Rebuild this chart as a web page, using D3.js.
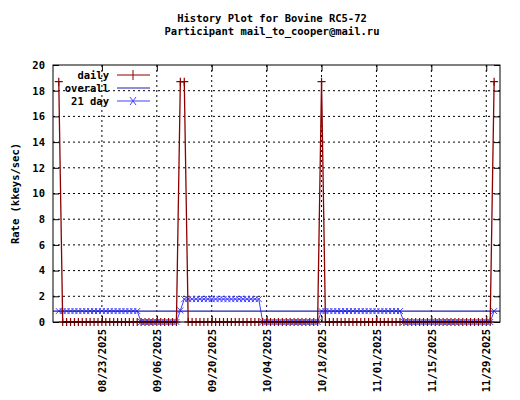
<!DOCTYPE html>
<html><head><meta charset="utf-8">
<script src="https://cdn.jsdelivr.net/npm/d3@7"></script>
<style>body{margin:0;background:#fff}text{font-family:"DejaVu Sans Mono",monospace;font-weight:bold;font-size:10.5px}</style>
</head><body><svg id="c" width="520" height="400"></svg>
<script>
const titleLines = ["History Plot for Bovine RC5-72", "Participant mail_to_cooper@mail.ru"];
const startDay = "2025-08-12", endDay = "2025-12-01";
const spikeDays = ["2025-08-12", "2025-09-12", "2025-09-13", "2025-10-18", "2025-12-01"];
const spikeValue = 18.7;
const overallValue = 0.85;
// 21-day average read as runs: [from, to, value]
const avgRuns = [
  ["2025-08-12", "2025-09-01", 0.85],
  ["2025-09-02", "2025-09-11", 0.0],
  ["2025-09-12", "2025-09-12", 0.9],
  ["2025-09-13", "2025-10-02", 1.78],
  ["2025-10-03", "2025-10-17", 0.0],
  ["2025-10-18", "2025-11-07", 0.85],
  ["2025-11-08", "2025-11-30", 0.0],
  ["2025-12-01", "2025-12-01", 0.85]
];
const xTickDates = ["2025-08-23","2025-09-06","2025-09-20","2025-10-04","2025-10-18","2025-11-01","2025-11-15","2025-11-29"];
const yTicks = [0,2,4,6,8,10,12,14,16,18,20];
const legendLabels = ["daily", "overall", "21 day"];

const P = d => d3.timeParse("%Y-%m-%d")(d);
const days = d3.timeDay.range(P(startDay), d3.timeDay.offset(P(endDay), 1));
const spikeSet = new Set(spikeDays);
const fmt = d3.timeFormat("%Y-%m-%d");
const daily = days.map(d => ({d, v: spikeSet.has(fmt(d)) ? spikeValue : 0}));
const avg = days.map(d => { const k = fmt(d); const r = avgRuns.find(r => k >= r[0] && k <= r[1]); return {d, v: r ? r[2] : 0}; });

const svg = d3.select("#c");
const L = 53, R = 500, T = 65, B = 322;
const x = d3.scaleTime().domain([new Date(2025,7,10,12,45), new Date(2025,11,2,12)]).range([L, R]);
const y = d3.scaleLinear().domain([0, 20]).range([B, T]);

svg.selectAll(".t").data(titleLines).join("text").attr("x", 272).attr("y", (d,i)=>22+i*13)
  .attr("text-anchor","middle").text(d=>d);

const g = svg.append("g");
yTicks.forEach(t => { if (t>0 && t<20) g.append("line").attr("x1",L).attr("x2",R).attr("y1",y(t)).attr("y2",y(t)).attr("stroke","#000").attr("stroke-dasharray","2,3"); });
xTickDates.forEach(t => g.append("line").attr("x1",x(P(t))).attr("x2",x(P(t))).attr("y1",T).attr("y2",B).attr("stroke","#000").attr("stroke-dasharray","2,3"));

const ya = svg.append("g").attr("transform",`translate(${L},0)`).call(d3.axisLeft(y).tickValues(yTicks).tickSize(-6).tickPadding(8));
const yb = svg.append("g").attr("transform",`translate(${R},0)`).call(d3.axisRight(y).tickValues(yTicks).tickSize(-6).tickFormat(""));
const xa = svg.append("g").attr("transform",`translate(0,${B})`).call(d3.axisBottom(x).tickValues(xTickDates.map(P)).tickSize(-6).tickFormat(d3.timeFormat("%m/%d/%Y")));
const xt = svg.append("g").attr("transform",`translate(0,${T})`).call(d3.axisTop(x).tickValues(xTickDates.map(P)).tickSize(-6).tickFormat(""));
[ya,yb,xa,xt].forEach(a=>{a.select(".domain").remove();a.selectAll("line").attr("stroke","#000");a.selectAll("text").attr("fill","#000").style("font-size","10.5px");});
xa.selectAll("text").attr("transform","rotate(-90)").attr("text-anchor","end").attr("x",-7).attr("y",0).attr("dy","0.35em");

svg.append("text").attr("transform","rotate(-90)").attr("x",-(T+B)/2).attr("y",19).attr("text-anchor","middle").text("Rate (kkeys/sec)");

const red = "#8b0000", navy = "#2020b0", blue = "#4040ff";
const line = d3.line().x(d=>x(d.d)).y(d=>y(d.v));
svg.append("path").datum(avg).attr("d",line).attr("fill","none").attr("stroke",blue).attr("stroke-width",1);
svg.selectAll(".am").data(avg).join("path").attr("d",d=>{const X=x(d.d),Y=y(d.v);return `M${X-3},${Y-3}L${X+3},${Y+3}M${X-3},${Y+3}L${X+3},${Y-3}`;}).attr("stroke",blue);
svg.append("line").attr("x1",L).attr("x2",R).attr("y1",y(overallValue)).attr("y2",y(overallValue)).attr("stroke",navy).attr("stroke-width",1.2);
svg.append("path").datum(daily).attr("d",line).attr("fill","none").attr("stroke",red).attr("stroke-width",1.3);
svg.selectAll(".dm").data(daily).join("path").attr("d",d=>{const X=x(d.d),Y=y(d.v);return `M${X-4},${Y}L${X+4},${Y}M${X},${Y-4}L${X},${Y+4}`;}).attr("stroke",red).attr("stroke-width",1.2);

svg.append("rect").attr("x",L).attr("y",T).attr("width",R-L).attr("height",B-T).attr("fill","none").attr("stroke","#000");

const cols = [red, navy, blue];
legendLabels.forEach((lab,i)=>{
  const yy = 75 + i*13;
  svg.append("text").attr("x",109).attr("y",yy+4).attr("text-anchor","end").text(lab);
  svg.append("line").attr("x1",117).attr("x2",150).attr("y1",yy).attr("y2",yy).attr("stroke",cols[i]).attr("stroke-width",1.2);
  if(i===0) svg.append("path").attr("d",`M133,${yy-5}L133,${yy+5}`).attr("stroke",red);
  if(i===2) svg.append("path").attr("d",`M130,${yy-4}L136,${yy+4}M130,${yy+4}L136,${yy-4}`).attr("stroke",blue);
});
</script></body></html>
